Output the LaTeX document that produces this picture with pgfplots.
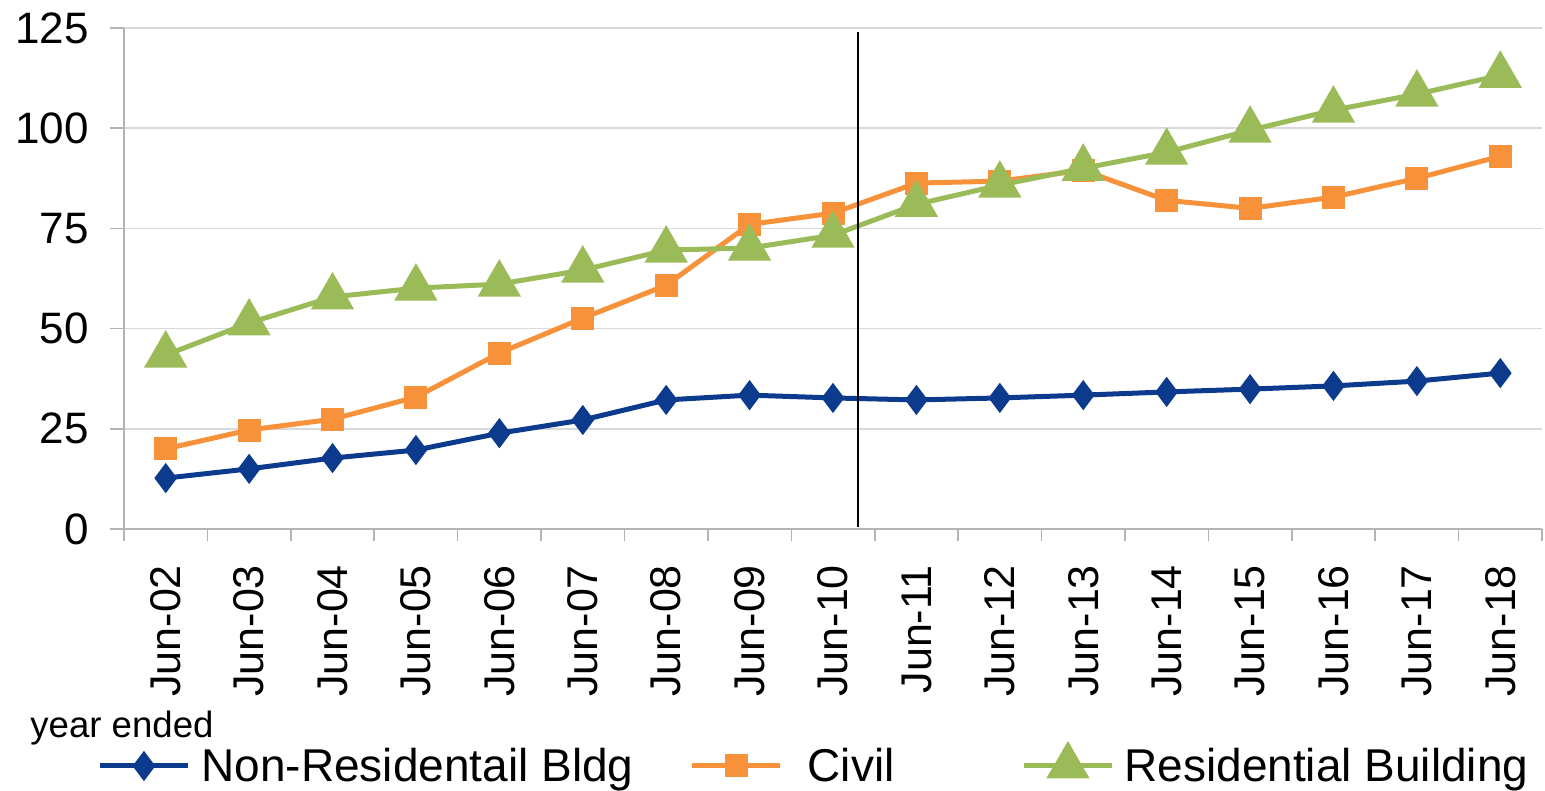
\documentclass[border=0pt]{standalone}
\usepackage{fontspec}
\setmainfont{Liberation Sans}
\usepackage{pgfplots}
\pgfplotsset{compat=1.18}

\definecolor{nonres}{HTML}{0C3A8C}
\definecolor{civil}{HTML}{F7923A}
\definecolor{resid}{HTML}{9BBB59}
\definecolor{gridc}{HTML}{D9D9D9}
\definecolor{axisc}{HTML}{B4B4B4}

\begin{document}
\begin{tikzpicture}
\useasboundingbox (-62pt,-131pt) rectangle (710.5pt,264.5pt);
\begin{axis}[
  at={(0,0)}, anchor=south west,
  scale only axis, width=709pt, height=250.5pt,
  xmin=-0.5, xmax=16.5, ymin=0, ymax=125,
  clip=false,
  axis lines*=left,
  axis line style={axisc, line width=0.8pt},
  tick align=outside,
  tick style={axisc, line width=0.8pt},
  ytick={0,25,50,75,100,125},
  major tick length=7pt,
  minor tick length=6pt,
  ymajorgrids,
  grid style={gridc, line width=0.8pt},
  xtick={0,...,16},
  xticklabels={Jun-02,Jun-03,Jun-04,Jun-05,Jun-06,Jun-07,Jun-08,Jun-09,Jun-10,Jun-11,Jun-12,Jun-13,Jun-14,Jun-15,Jun-16,Jun-17,Jun-18},
  major x tick style={draw=none},
  minor xtick={-0.5,0.5,...,16.5},
  /pgf/number format/assume math mode=true,
  xticklabel shift=7.5pt,
  yticklabel shift=7pt,
  x tick label style={rotate=90, anchor=east, font=\fontsize{21.5}{24}\selectfont},
  y tick label style={font=\fontsize{22}{26}\selectfont},
  legend columns=3,
  legend style={
    at={(-0.019,-0.473)}, anchor=west,
    draw=none, fill=none, inner sep=0pt,
    font=\fontsize{23}{26}\selectfont,
    nodes={inner xsep=0pt, inner ysep=2pt},
    /tikz/column 1/.style={column sep=5.5pt},
    /tikz/column 2/.style={column sep=28pt},
    /tikz/column 3/.style={column sep=12.5pt},
    /tikz/column 4/.style={column sep=63.5pt},
    /tikz/column 5/.style={column sep=5pt},
  },
  legend image code/.code={
    \draw[mark repeat=2, mark phase=2, #1] plot coordinates {(0pt,0pt) (22pt,0pt) (44pt,0pt)};
  },
]

% Non-residential building
\addplot[nonres, line width=2.5pt, mark=diamond*, mark size=5.5pt, mark options={solid}]
  coordinates {(0,12.7) (1,15) (2,17.7) (3,19.7) (4,23.9) (5,27.2) (6,32.2) (7,33.4) (8,32.7)
               (9,32.2) (10,32.7) (11,33.4) (12,34.2) (13,34.9) (14,35.7) (15,36.9) (16,38.9)};
\addlegendentry{Non-Residentail Bldg}

% Civil
\addplot[civil, line width=2.5pt, mark=square*, mark size=4.5pt, mark options={solid}]
  coordinates {(0,20) (1,24.7) (2,27.4) (3,32.9) (4,43.9) (5,52.6) (6,60.8) (7,76) (8,78.8)
               (9,86.3) (10,86.8) (11,89.5) (12,82) (13,80) (14,82.8) (15,87.5) (16,93)};
\addlegendentry{Civil}

% Residential building
\addplot[resid, line width=2.5pt, mark=triangle*, mark size=10pt, mark options={solid}]
  coordinates {(0,43.4) (1,51.4) (2,57.9) (3,60.1) (4,61.1) (5,64.6) (6,69.6) (7,70.1) (8,73.3)
               (9,81) (10,85.8) (11,90) (12,94) (13,99.5) (14,104.5) (15,108.5) (16,113.2)};
\addlegendentry{Residential Building}

% break in the series
\draw[black, line width=1.4pt] (axis cs:8.3,0.5) -- (axis cs:8.3,124);

\node[anchor=west, inner sep=0pt, font=\fontsize{18.3}{20}\selectfont]
  at (axis description cs:-0.0663,-0.397) {year ended};
\end{axis}
\end{tikzpicture}
\end{document}
